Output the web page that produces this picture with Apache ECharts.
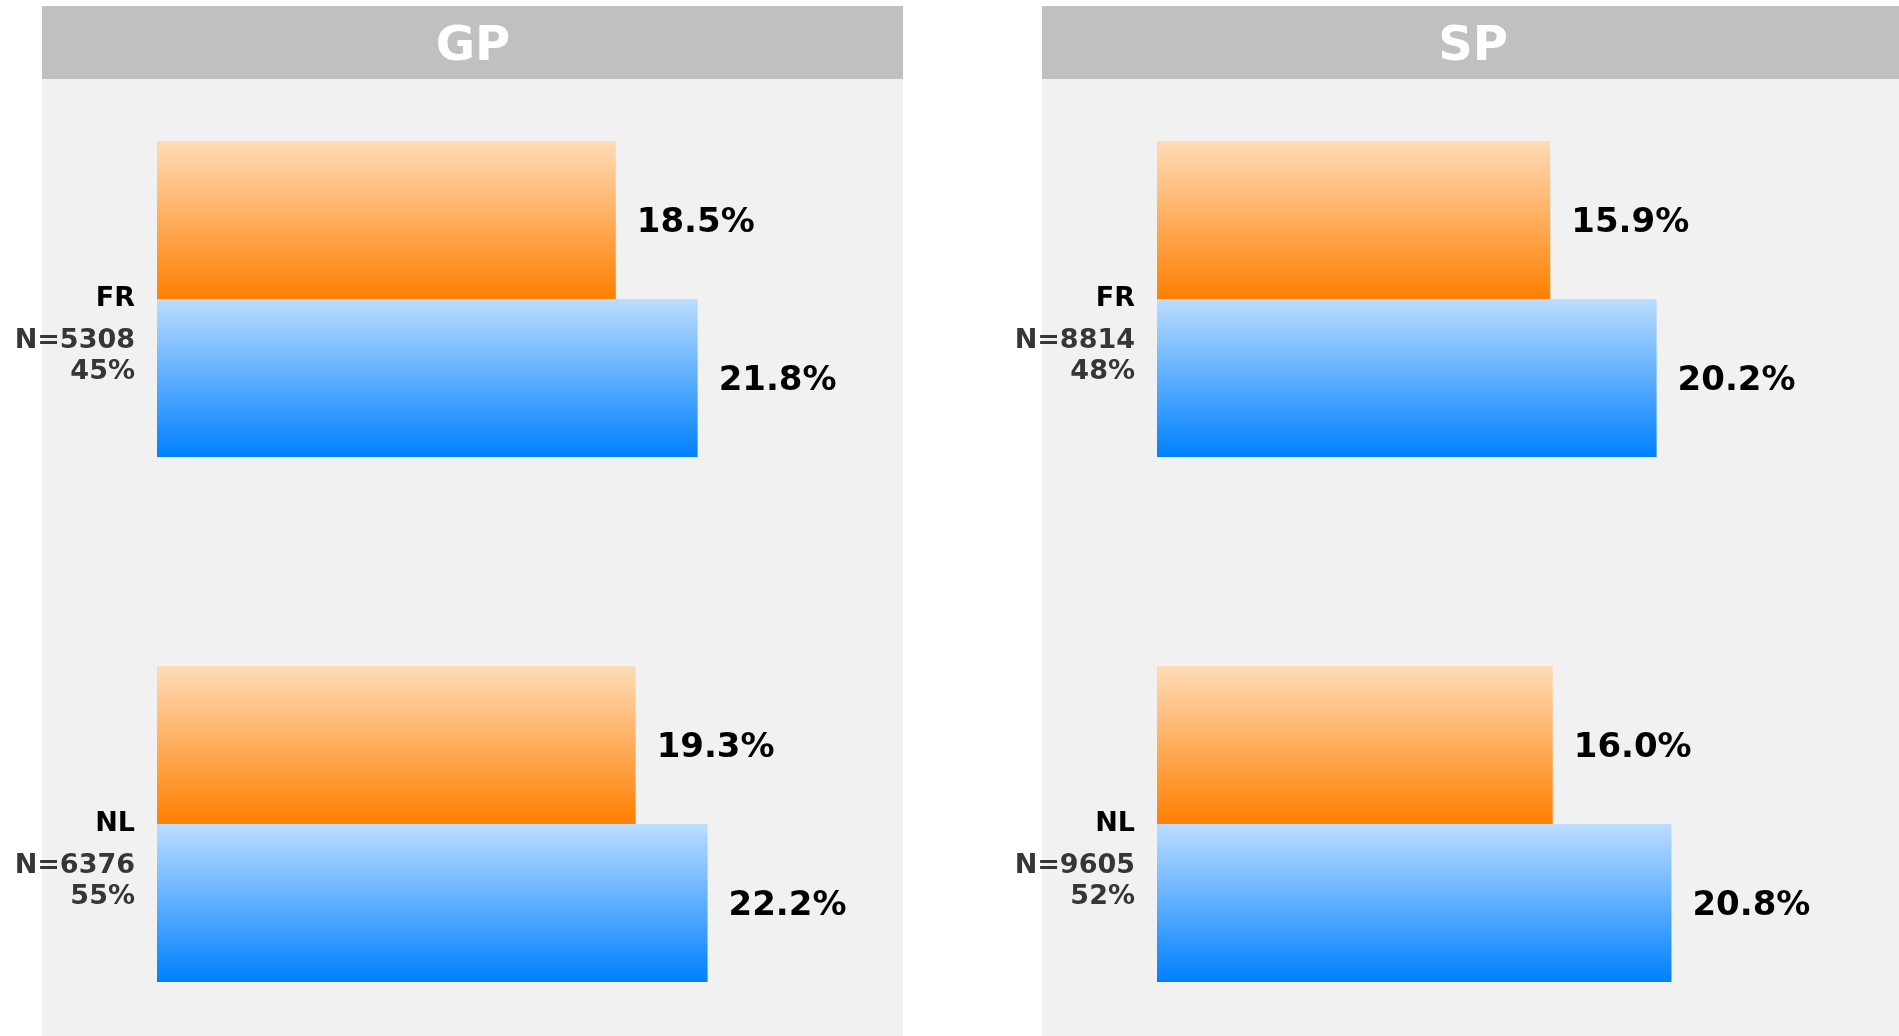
<!DOCTYPE html>
<html>
<head>
<meta charset="utf-8">
<script src="https://cdn.jsdelivr.net/npm/echarts@6/dist/echarts.min.js"></script>
<style>
  html, body { margin: 0; padding: 0; background: #fff; }
  #chart { width: 1899px; height: 1036px; }
</style>
</head>
<body>
<div id="chart"></div>
<script>
const countries = ['FR', 'NL']
const panelTitles = ['GP', 'SP']

// GP panel
const gpN = [5308, 6376]
const gpShare = [45, 55]
const gpOrange = [18.5, 19.3]
const gpBlue = [21.8, 22.2]

// SP panel
const spN = [8814, 9605]
const spShare = [48, 52]
const spOrange = [15.9, 16.0]
const spBlue = [20.2, 20.8]

const FONT = 'DejaVu Sans'

function grad(top, bottom) {
  return new echarts.graphic.LinearGradient(0, 0, 0, 1, [
    { offset: 0, color: top },
    { offset: 1, color: bottom },
  ])
}
const orangeFill = grad('#fedcb9', '#ff7f00')
const blueFill = grad('#bcddfe', '#0080ff')

function catAxis(gridIndex, nArr, shareArr) {
  return {
    type: 'category',
    gridIndex,
    data: countries,
    inverse: true,
    boundaryGap: false,
    axisLine: { show: false },
    axisTick: { show: false },
    splitLine: { show: false },
    axisLabel: {
      margin: 22,
      align: 'right',
      formatter: (v, i) =>
        `{s| }\n{c|${v}}\n{n|N=${nArr[i]}}\n{n|${shareArr[i]}%}`,
      rich: {
        s: { fontSize: 10, lineHeight: 62, align: 'right' },
        c: { fontFamily: FONT, fontWeight: 'bold', fontSize: 27, lineHeight: 53, color: '#000', align: 'right' },
        n: { fontFamily: FONT, fontWeight: 'bold', fontSize: 27, lineHeight: 31, color: '#363636', align: 'right' },
      },
    },
  }
}

function valAxis(gridIndex) {
  return {
    type: 'value',
    gridIndex,
    min: 0,
    max: 30,
    show: false,
    splitLine: { show: false },
  }
}

function barSeries(name, idx, values, fill) {
  return {
    name,
    type: 'bar',
    xAxisIndex: idx,
    yAxisIndex: idx,
    data: values,
    barWidth: 158,
    barGap: '0%',
    itemStyle: { color: fill },
    label: {
      show: true,
      position: 'right',
      distance: 21,
      offset: [0, 3],
      fontFamily: FONT,
      fontWeight: 'bold',
      fontSize: 34,
      color: '#000',
      formatter: (p) => p.value.toFixed(1) + '%',
    },
    silent: true,
  }
}

const chart = echarts.init(document.getElementById('chart'))

chart.setOption({
  backgroundColor: '#ffffff',
  animation: false,
  graphic: [
    // panel backgrounds
    { type: 'rect', z: -10, shape: { x: 42, y: 6, width: 861, height: 1030 }, style: { fill: '#f1f1f1' } },
    { type: 'rect', z: -10, shape: { x: 1042, y: 6, width: 861, height: 1030 }, style: { fill: '#f1f1f1' } },
    // header bars
    { type: 'rect', z: -9, shape: { x: 42, y: 6, width: 861, height: 73 }, style: { fill: '#c0c0c0' } },
    { type: 'rect', z: -9, shape: { x: 1042, y: 6, width: 861, height: 73 }, style: { fill: '#c0c0c0' } },
  ],
  title: panelTitles.map((t, i) => ({
    text: t,
    left: i === 0 ? 468 : 1468,
    top: 43,
    textAlign: 'center',
    textVerticalAlign: 'middle',
    textStyle: { fontFamily: FONT, fontWeight: 'bold', fontSize: 48, color: '#ffffff' },
  })),
  grid: [
    { left: 157, top: 299, width: 744, height: 525 },
    { left: 1157, top: 299, width: 744, height: 525 },
  ],
  xAxis: [valAxis(0), valAxis(1)],
  yAxis: [catAxis(0, gpN, gpShare), catAxis(1, spN, spShare)],
  series: [
    barSeries('GP orange', 0, gpOrange, orangeFill),
    barSeries('GP blue', 0, gpBlue, blueFill),
    barSeries('SP orange', 1, spOrange, orangeFill),
    barSeries('SP blue', 1, spBlue, blueFill),
  ],
})
</script>
</body>
</html>
